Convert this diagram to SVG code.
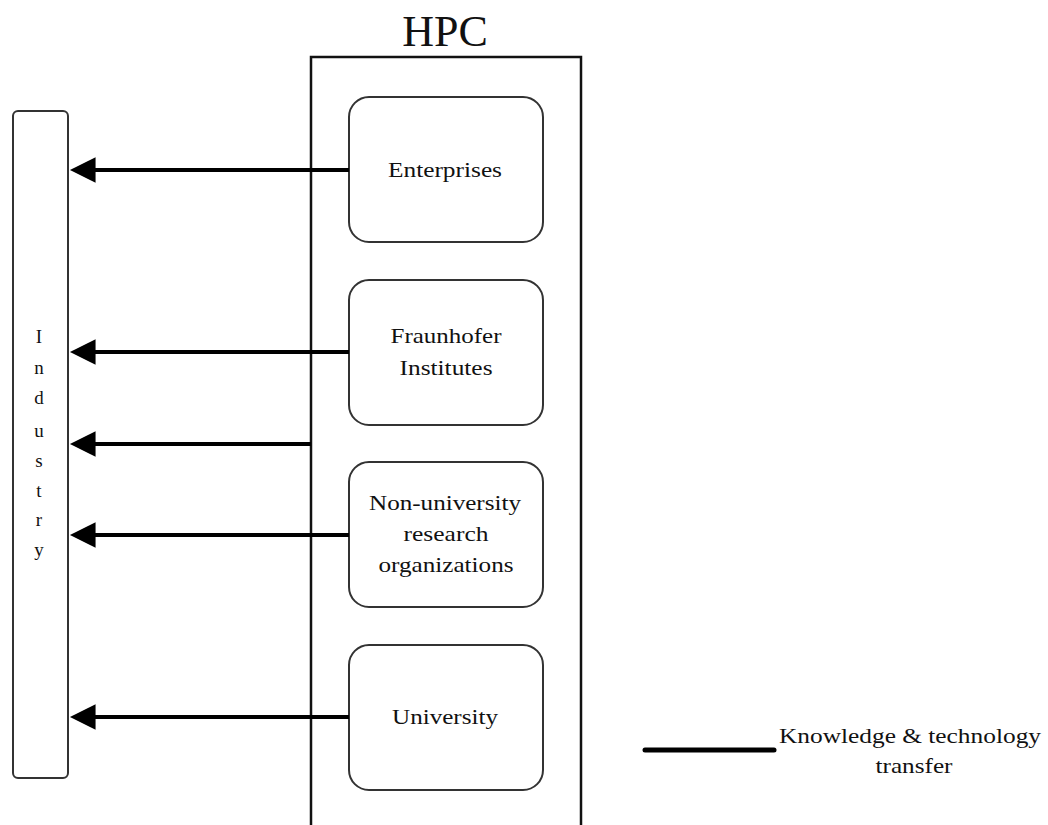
<svg xmlns="http://www.w3.org/2000/svg" width="1048" height="825" viewBox="0 0 1048 825">
  <defs>
    <marker id="arrow" viewBox="0 0 10 10" refX="1" refY="5" markerWidth="7" markerHeight="6.4" markerUnits="strokeWidth" orient="auto-start-reverse">
      <path d="M0,0 L10,5 L0,10 z" fill="#000"/>
    </marker>
    <style>
      .node { fill: #fff; stroke: #333; stroke-width: 2; }
      .label { font-family: "Liberation Serif", "Times New Roman", serif; font-size: 21px; fill: #111; text-anchor: middle; }
      .letter { font-family: "Liberation Serif", "Times New Roman", serif; font-size: 19px; fill: #111; text-anchor: middle; }
      .flow { stroke: #000; stroke-width: 4; fill: none; }
    </style>
  </defs>
  <rect width="1048" height="825" fill="#fff"/>

  <!-- HPC container (open at the bottom edge of the page) -->
  <g id="hpc">
    <rect x="311" y="57" width="270" height="800" fill="none" stroke="#111" stroke-width="2.5"/>
    <text x="445" y="46" font-family="'Liberation Serif', 'Times New Roman', serif" font-size="44" text-anchor="middle" fill="#111">HPC</text>
  </g>

  <!-- Industry bar -->
  <g id="industry">
    <rect x="13" y="111" width="55" height="667" rx="5" class="node"/>
    <text x="39" y="343" class="letter">I</text>
    <text x="39" y="374" class="letter">n</text>
    <text x="39" y="404" class="letter">d</text>
    <text x="39" y="437" class="letter">u</text>
    <text x="39" y="467" class="letter">s</text>
    <text x="39" y="497" class="letter">t</text>
    <text x="39" y="526" class="letter">r</text>
    <text x="39" y="556" class="letter">y</text>
  </g>

  <g id="enterprises">
    <rect x="349" y="97" width="194" height="145" rx="20" class="node"/>
    <text x="445" y="177" class="label" textLength="114" lengthAdjust="spacingAndGlyphs">Enterprises</text>
  </g>

  <g id="fraunhofer">
    <rect x="349" y="280" width="194" height="145" rx="20" class="node"/>
    <text x="446" y="343" class="label" textLength="111" lengthAdjust="spacingAndGlyphs">Fraunhofer</text>
    <text x="446" y="375" class="label" textLength="93" lengthAdjust="spacingAndGlyphs">Institutes</text>
  </g>

  <g id="non-university">
    <rect x="349" y="462" width="194" height="145" rx="20" class="node"/>
    <text x="445" y="510" class="label" textLength="152" lengthAdjust="spacingAndGlyphs">Non-university</text>
    <text x="446" y="541" class="label" textLength="85" lengthAdjust="spacingAndGlyphs">research</text>
    <text x="446" y="572" class="label" textLength="135" lengthAdjust="spacingAndGlyphs">organizations</text>
  </g>

  <g id="university">
    <rect x="349" y="645" width="194" height="145" rx="20" class="node"/>
    <text x="445" y="724" class="label" textLength="106" lengthAdjust="spacingAndGlyphs">University</text>
  </g>

  <!-- Knowledge & technology transfer flows toward industry -->
  <g id="connectors">
    <line x1="349" y1="170" x2="93" y2="170" class="flow" marker-end="url(#arrow)"/>
    <line x1="349" y1="352" x2="93" y2="352" class="flow" marker-end="url(#arrow)"/>
    <line x1="311" y1="444" x2="93" y2="444" class="flow" marker-end="url(#arrow)"/>
    <line x1="349" y1="535" x2="93" y2="535" class="flow" marker-end="url(#arrow)"/>
    <line x1="349" y1="717" x2="93" y2="717" class="flow" marker-end="url(#arrow)"/>
  </g>

  <!-- Legend -->
  <g id="legend">
    <line x1="645" y1="750" x2="774" y2="750" stroke="#000" stroke-width="5" stroke-linecap="round"/>
    <text x="910" y="743" class="label" textLength="262" lengthAdjust="spacingAndGlyphs">Knowledge &amp; technology</text>
    <text x="914" y="773" class="label" textLength="77" lengthAdjust="spacingAndGlyphs">transfer</text>
  </g>
</svg>
